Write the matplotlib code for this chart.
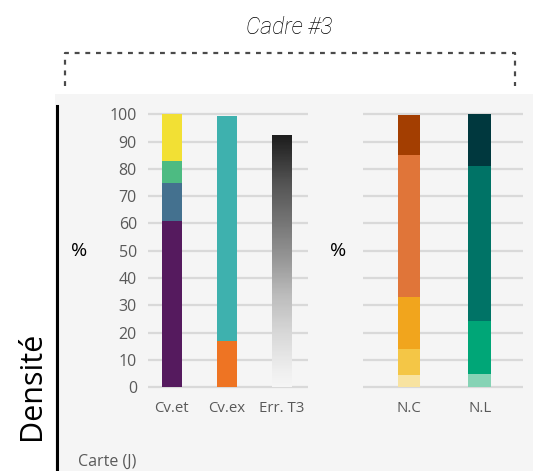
import matplotlib
matplotlib.use('Agg')
import matplotlib.pyplot as plt
import numpy as np
from matplotlib.patches import Rectangle
from matplotlib.lines import Line2D

# Left panel: stacked composition (%)
left_cats = ["Cv.et", "Cv.ex", "Err. T3"]
cvet_vals = [61, 14, 8, 17]
cvet_colors = ["#551A5E", "#44718F", "#4DBB82", "#F2E034"]
cvex_vals = [17, 82.5]
cvex_colors = ["#EE7423", "#3EB1AE"]
err_t3 = 92.5

# Right panel
right_cats = ["N.C", "N.L"]
nc_vals = [4.5, 9.7, 19, 52, 14.5]
nc_colors = ["#F8E3A1", "#F4C646", "#F1A51D", "#E07539", "#A33E01"]
nl_vals = [5, 19.2, 57, 18.8]
nl_colors = ["#86D3B5", "#00A677", "#007366", "#00383E"]

yticks = list(range(0, 101, 10))

W, H = 533, 471
fig = plt.figure(figsize=(W / 100, H / 100), dpi=100)
fig.patch.set_facecolor('white')

# gray background panel
fig.patches.append(Rectangle((55 / W, 0), 1 - 55 / W, 1 - 94 / H, transform=fig.transFigure,
                             facecolor='#F5F5F5', edgecolor='none', zorder=-5))
# black vertical rule
fig.lines.append(Line2D([56.5 / W, 56.5 / W], [0, 1 - 106 / H], transform=fig.transFigure,
                        color='black', linewidth=2.2))

# dotted bracket
bx = [65 / W, 65 / W, 515 / W, 515 / W]
by = [1 - 86 / H, 1 - 53 / H, 1 - 53 / H, 1 - 86 / H]
fig.lines.append(Line2D(bx, by, transform=fig.transFigure, color='#4a4a4a',
                        linewidth=1.6, linestyle=(0, (2.2, 2.6))))

fig.text(289 / W, 1 - 27 / H, "Cadre #3", fontsize=16.5, style='italic', family='Roboto',
         fontweight='light', color='black', ha='center', va='center')

ybot = 1 - 390 / H
yh = 102 * 2.73 / H


def style_axes(ax, cats):
    ax.set_facecolor('none')
    ax.set_ylim(-1, 101)
    ax.set_yticks(yticks)
    for s in ax.spines.values():
        s.set_visible(False)
    ax.grid(True, axis='y', color='#D9D9D9', linewidth=1.6)
    ax.set_axisbelow(True)
    ax.tick_params(axis='y', length=0, labelsize=11.5, labelcolor='#595959', pad=8)
    ax.tick_params(axis='x', length=0, labelsize=10.8, labelcolor='#595959', pad=8)
    ax.set_xticks(range(len(cats)))
    ax.set_xticklabels(cats, family='Open Sans')
    for t in ax.get_yticklabels():
        t.set_family('Open Sans')


# left axes
ax1 = fig.add_axes([148 / W, ybot, 160 / W, yh])
style_axes(ax1, left_cats)
bw = 0.36
bottom = 0
for v, c in zip(cvet_vals, cvet_colors):
    ax1.bar(0, v, bw, bottom=bottom, color=c, zorder=3)
    bottom += v
bottom = 0
for v, c in zip(cvex_vals, cvex_colors):
    ax1.bar(1, v, bw, bottom=bottom, color=c, zorder=3)
    bottom += v
# gradient bar (dark grey at top, fading to light grey at the base)
bar = ax1.bar(2, err_t3, bw, color='none', zorder=3)[0]
grad = np.linspace(0, 1, 256).reshape(-1, 1)
im = ax1.imshow(grad, cmap='Greys', vmin=-0.1, vmax=1.12, origin='lower', aspect='auto',
                extent=(2 - bw / 2, 2 + bw / 2, 0, err_t3), zorder=3)
im.set_clip_path(bar)
ax1.set_xlim(-0.43, 2.48)
ax1.set_ylim(-1, 101)

# right axes
ax2 = fig.add_axes([363 / W, ybot, 160 / W, yh])
style_axes(ax2, right_cats)
ax2.set_xlim(-0.65, 1.61)
ax2.set_yticklabels([])
bw2 = 0.32
bottom = 0
for v, c in zip(nc_vals, nc_colors):
    ax2.bar(0, v, bw2, bottom=bottom, color=c, zorder=3)
    bottom += v
bottom = 0
for v, c in zip(nl_vals, nl_colors):
    ax2.bar(1, v, bw2, bottom=bottom, color=c, zorder=3)
    bottom += v

fig.text(79 / W, 1 - 251 / H, "%", fontsize=14, family='Open Sans', color='black',
         ha='center', va='center')
fig.text(338 / W, 1 - 251 / H, "%", fontsize=14, family='Open Sans', color='black',
         ha='center', va='center')

fig.text(32 / W, 1 - 386 / H, "Densité", fontsize=22, family='Open Sans', color='black',
         rotation=90, ha='center', va='center')
fig.text(78 / W, 1 - 462 / H, "Carte (J)", fontsize=11.5, family='Open Sans', color='#595959',
         ha='left', va='center')

fig.savefig('out.png', dpi=100)
